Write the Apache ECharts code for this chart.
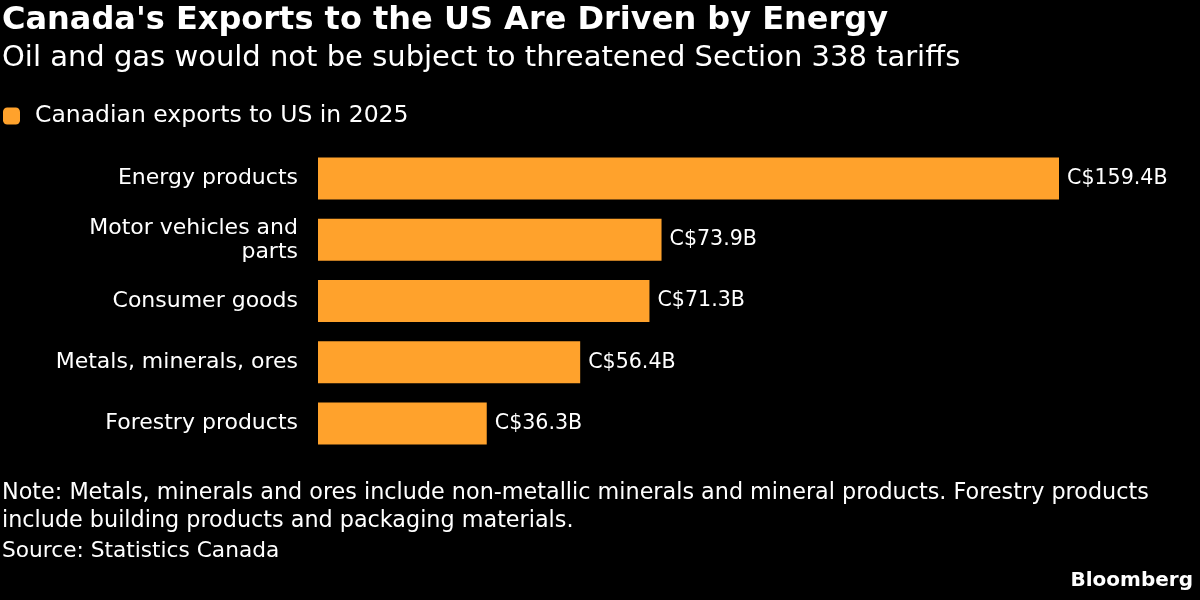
<!DOCTYPE html>
<html lang="en">
<head>
    <meta charset="UTF-8">
    <title>Canada exports</title>
    <script src="https://cdn.jsdelivr.net/npm/echarts@6/dist/echarts.min.js"></script>
    <style>
        html,body{
            margin: 0;
            height: 100%;
            background: #000000;
        }
    </style>
</head>
<body>
<div id="main" style="width: 1200px;height: 600px"></div>
<script>
    // data
    var categories = ['Energy products', 'Motor vehicles and\nparts', 'Consumer goods', 'Metals, minerals, ores', 'Forestry products'];
    var exports2025 = [159.4, 73.9, 71.3, 56.4, 36.3];
    var seriesName = 'Canadian exports to US in 2025';

    var font = '"DejaVu Sans", sans-serif';
    var myChart = echarts.init(document.getElementById('main'));

    var option = {
        backgroundColor: '#000000',
        textStyle: {fontFamily: font},
        title: [{
            text: "Canada's Exports to the US Are Driven by Energy",
            left: 0,
            top: 0,
            padding: [5, 2],
            textStyle: {color: '#ffffff', fontSize: 32, fontWeight: 'bold', fontFamily: font}
        }, {
            text: 'Oil and gas would not be subject to threatened Section 338 tariffs',
            left: 0,
            top: 39,
            padding: [5, 2],
            textStyle: {color: '#ffffff', fontSize: 29, fontWeight: 'normal', fontFamily: font}
        }, {
            text: 'Note: Metals, minerals and ores include non-metallic minerals and mineral products. Forestry products\ninclude building products and packaging materials.',
            left: 0,
            top: 474,
            padding: [5, 2],
            textStyle: {color: '#ffffff', fontSize: 22.3, fontWeight: 'normal', lineHeight: 28, fontFamily: font}
        }, {
            text: 'Source: Statistics Canada',
            left: 0,
            top: 535,
            padding: [5, 2],
            textStyle: {color: '#ffffff', fontSize: 21.7, fontWeight: 'normal', fontFamily: font}
        }, {
            text: 'Bloomberg',
            right: 2,
            top: 566,
            padding: [5, 5],
            textStyle: {color: '#ffffff', fontSize: 20, fontWeight: 'bold', fontFamily: font}
        }],
        legend: {
            left: 3,
            top: 104,
            padding: 0,
            itemWidth: 17,
            itemHeight: 17,
            icon: 'roundRect',
            textStyle: {color: '#ffffff', fontSize: 23.5, fontFamily: font, padding: [0, 0, 0, 10]},
            data: [seriesName]
        },
        grid: {
            left: 318,
            right: 141,
            top: 148,
            height: 306,
            containLabel: false
        },
        xAxis: {
            type: 'value',
            min: 0,
            max: 159.4,
            show: false
        },
        yAxis: {
            type: 'category',
            inverse: true,
            data: categories,
            axisLine: {show: false},
            axisTick: {show: false},
            splitLine: {show: false},
            axisLabel: {
                color: '#ffffff',
                fontSize: 22,
                lineHeight: 24,
                margin: 20,
                align: 'right',
                fontFamily: font
            }
        },
        series: [{
            name: seriesName,
            type: 'bar',
            data: exports2025,
            barWidth: 42,
            itemStyle: {color: '#ffa22c'},
            label: {
                show: true,
                position: 'right',
                distance: 8,
                color: '#ffffff',
                fontSize: 20.6,
                fontFamily: font,
                formatter: function (p) {
                    return 'C$' + p.value.toFixed(1) + 'B';
                }
            }
        }]
    };

    myChart.setOption(option);
</script>
</body>
</html>
